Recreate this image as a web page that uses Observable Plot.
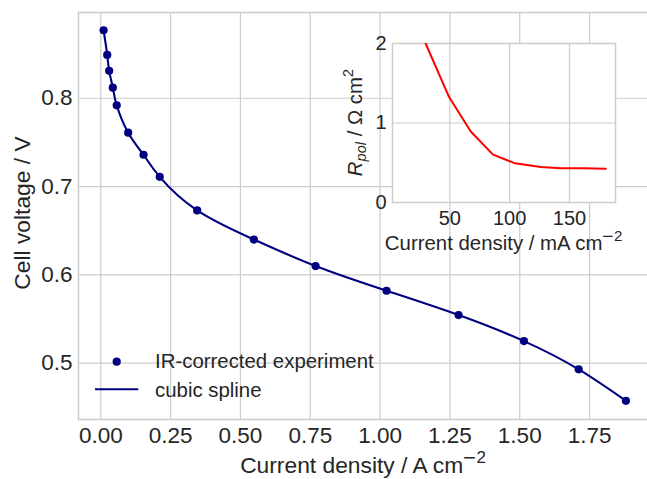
<!DOCTYPE html>
<html><head><meta charset="utf-8">
<script src="https://cdn.jsdelivr.net/npm/d3@7"></script>
<script src="https://cdn.jsdelivr.net/npm/@observablehq/plot@0.6"></script>
<style>
body{margin:0;background:#fff;}
#wrap{position:relative;width:647px;height:479px;overflow:hidden;font-family:"Liberation Sans",Arial,sans-serif;}
#wrap svg{position:absolute;left:0;top:0;}
</style></head><body><div id="wrap"></div>
<script>
// Main chart data (A cm^-2, V)
const currentDensity = [0.010,0.023,0.030,0.043,0.057,0.098,0.153,0.211,0.345,0.548,0.769,1.023,1.281,1.515,1.711,1.880];
const cellVoltage   = [0.877,0.849,0.831,0.812,0.792,0.761,0.736,0.711,0.673,0.640,0.610,0.582,0.5545,0.525,0.493,0.4574];
// Inset data (mA cm^-2, Ohm cm^2)
const insetCurrent = [29.8,49.4,67.5,86.1,104.5,126,142.7,162.2,180.3];
const insetRpol    = [2.0,1.326,0.893,0.602,0.493,0.447,0.430,0.430,0.425];
// Tick labels
const xTicks = [0,0.25,0.5,0.75,1.0,1.25,1.5,1.75];
const yTicks = [0.5,0.6,0.7,0.8];
const insetXTicks = [50,100,150];
const insetYTicks = [0,1,2];
const legendLabels = ["IR-corrected experiment","cubic spline"];

const mainData = currentDensity.map((x,i)=>({x, y: cellVoltage[i]}));
const insetData = insetCurrent.map((x,i)=>({x, y: insetRpol[i]}));

const TEXT = "#262626", GRID = "#cccccc", NAVY = "#000080";
const FONT = '"Liberation Sans", Arial, sans-serif';

const main = Plot.plot({
  width: 647, height: 479,
  marginLeft: 78, marginRight: -3, marginTop: 12, marginBottom: 60,
  style: {fontFamily: FONT, fontSize: "22.5px", color: TEXT, background: "white", overflow: "visible"},
  x: {domain: [(78-100.3)/279.3, (650-100.3)/279.3], ticks: xTicks, tickFormat: d3.format(".2f"), tickSize: 0, tickPadding: 8, label: null},
  y: {domain: [0.4362, 0.8971], ticks: yTicks, tickFormat: d3.format(".1f"), tickSize: 0, tickPadding: 6, label: null},
  marks: [
    Plot.ruleX(xTicks, {stroke: GRID, strokeWidth: 1.2}),
    Plot.ruleY(yTicks, {stroke: GRID, strokeWidth: 1.2}),
    Plot.frame({stroke: GRID, strokeWidth: 1.5}),
    Plot.line(mainData, {x: "x", y: "y", curve: "natural", stroke: NAVY, strokeWidth: 2.1}),
    Plot.dot(mainData, {x: "x", y: "y", r: 4.1, fill: NAVY, stroke: "none"})
  ]
});

const inset = Plot.plot({
  width: 647, height: 479,
  marginLeft: 392, marginRight: 32, marginTop: 43, marginBottom: 277,
  style: {fontFamily: FONT, fontSize: "20px", color: TEXT, background: "transparent", overflow: "visible"},
  x: {domain: [(392-389.45)/1.197, (615-389.45)/1.197], ticks: insetXTicks, tickFormat: d3.format("d"), tickSize: 0, tickPadding: 8, label: null},
  y: {domain: [0, 2], ticks: insetYTicks, tickFormat: d3.format("d"), tickSize: 0, tickPadding: 6, label: null},
  marks: [
    Plot.frame({fill: "white", stroke: "none"}),
    Plot.ruleX(insetXTicks, {stroke: GRID, strokeWidth: 1.2}),
    Plot.ruleY(insetYTicks, {stroke: GRID, strokeWidth: 1.2}),
    Plot.frame({stroke: GRID, strokeWidth: 1.5}),
    Plot.line(insetData, {x: "x", y: "y", stroke: "#ff0000", strokeWidth: 2, clip: true})
  ]
});

const wrap = document.getElementById("wrap");
wrap.appendChild(main);
wrap.appendChild(inset);

// Labels & legend on main
const ms = d3.select(main);
const xl = ms.append("text").attr("x", 363).attr("y", 472.5).attr("text-anchor", "middle")
  .attr("fill", TEXT).attr("font-size", 22.8).attr("font-family", FONT);
xl.append("tspan").text("Current density / A cm");
xl.append("tspan").attr("font-size", 17).attr("dx", -1).attr("dy", -10).attr("font-family", '"DejaVu Sans", sans-serif').text("−");
xl.append("tspan").attr("font-size", 17).text("2");

ms.append("text").attr("transform", "translate(30,213) rotate(-90)").attr("text-anchor", "middle")
  .attr("fill", TEXT).attr("font-size", 22.8).attr("font-family", FONT).text("Cell voltage / V");

const lg = ms.append("g").attr("font-size", 20.4).attr("font-family", FONT).attr("fill", TEXT).attr("text-anchor", "start");
lg.append("circle").attr("cx", 116.7).attr("cy", 361.7).attr("r", 4.1).attr("fill", NAVY);
lg.append("line").attr("x1", 95).attr("x2", 138.3).attr("y1", 389.3).attr("y2", 389.3).attr("stroke", NAVY).attr("stroke-width", 2.1);
lg.append("text").attr("x", 155).attr("y", 368).text(legendLabels[0]);
lg.append("text").attr("x", 155).attr("y", 396.5).text(legendLabels[1]);

// Labels on inset
const is = d3.select(inset);
const ixl = is.append("text").attr("x", 503.6).attr("y", 250.3).attr("text-anchor", "middle")
  .attr("fill", TEXT).attr("font-size", 20.4).attr("font-family", FONT);
ixl.append("tspan").text("Current density / mA cm");
ixl.append("tspan").attr("font-size", 15).attr("dx", -1).attr("dy", -9).attr("font-family", '"DejaVu Sans", sans-serif').text("−");
ixl.append("tspan").attr("font-size", 15).text("2");

const iyl = is.append("text").attr("transform", "translate(362,122.5) rotate(-90)").attr("text-anchor", "middle")
  .attr("fill", TEXT).attr("font-size", 20.4).attr("font-family", FONT);
iyl.append("tspan").attr("font-style", "italic").text("R");
iyl.append("tspan").attr("font-style", "italic").attr("font-size", 14.5).attr("dy", 4).text("pol");
iyl.append("tspan").attr("dy", -4).text(" / Ω cm");
iyl.append("tspan").attr("font-size", 14.5).attr("dy", -9.5).text("2");
</script></body></html>
